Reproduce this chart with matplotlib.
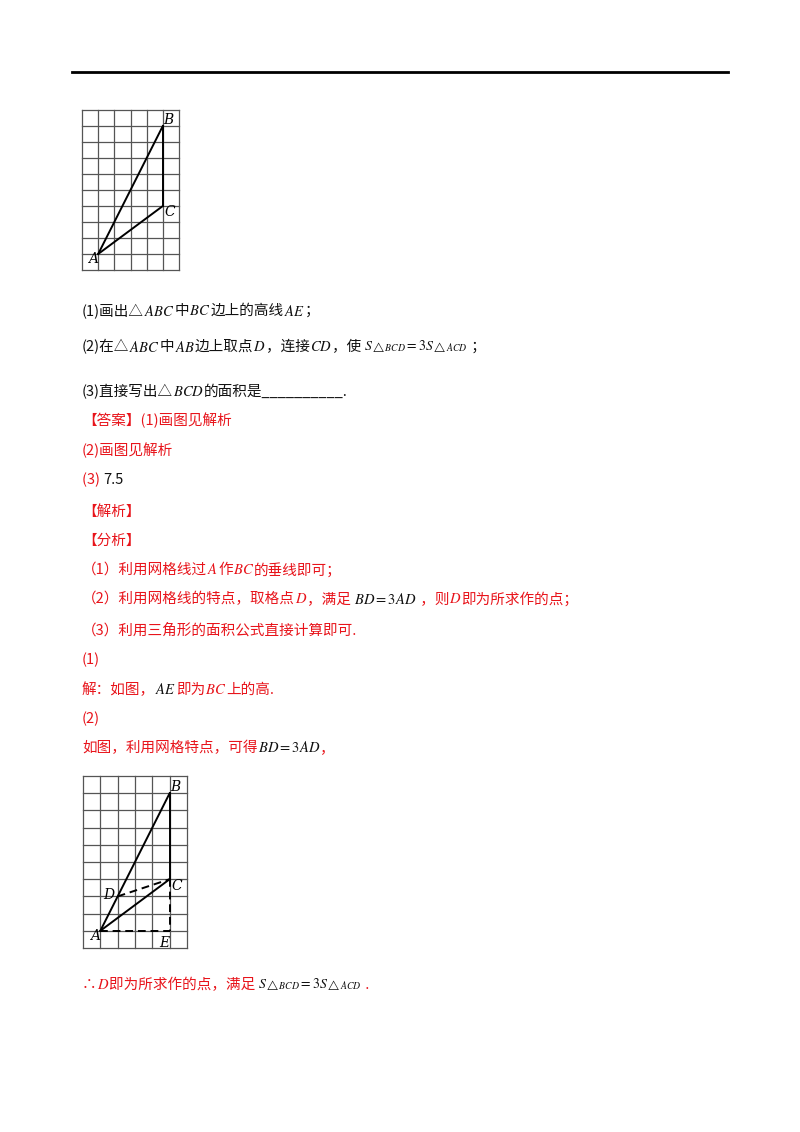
import matplotlib
matplotlib.use("Agg")
import matplotlib.pyplot as plt

plt.rcParams['font.family'] = ['Noto Sans CJK SC', 'DejaVu Sans']
plt.rcParams['mathtext.fontset'] = 'stix'

# grid points (column, row) on a 6 x 10 grid
grid_w, grid_h = 6, 10
A = (1, 1)
B = (5, 9)
C = (5, 4)
D = (2, 3)
E = (5, 1)

RED = '#e8141b'
BLK = '#111111'
S_EXPR = r'$S_{\triangle BCD}=3S_{\triangle ACD}$'

# text lines: (y pixel, [(text, color), ...])
lines = [
    (311, [('(1)画出△', BLK), ('$ABC$', BLK), ('中', BLK), ('$BC$', BLK), ('边上的高线', BLK), ('$AE$', BLK), ('；', BLK)]),
    (347, [('(2)在△', BLK), ('$ABC$', BLK), ('中', BLK), ('$AB$', BLK), ('边上取点', BLK), ('$D$', BLK), ('，连接', BLK),
           ('$CD$', BLK), ('，使 ', BLK), (S_EXPR, BLK), (' ；', BLK)]),
    (392, [('(3)直接写出△', BLK), ('$BCD$', BLK), ('的面积是__________.', BLK)]),
    (420, [('【答案】(1)画图见解析', RED)]),
    (450, [('(2)画图见解析', RED)]),
    (480, [('(3) ', RED), ('7.5', BLK)]),
    (512, [('【解析】', RED)]),
    (541, [('【分析】', RED)]),
    (570, [('（1）利用网格线过', RED), ('$A$', RED), ('作', RED), ('$BC$', RED), ('的垂线即可；', RED)]),
    (599, [('（2）利用网格线的特点，取格点', RED), ('$D$', RED), ('，满足 ', RED), ('$BD=3AD$', BLK),
           (' ，则', RED), ('$D$', RED), ('即为所求作的点；', RED)]),
    (630, [('（3）利用三角形的面积公式直接计算即可.', RED)]),
    (660, [('(1)', RED)]),
    (690, [('解：如图，', RED), ('$AE$', BLK), ('即为', RED), ('$BC$', RED), ('上的高.', RED)]),
    (719, [('(2)', RED)]),
    (748, [('如图，利用网格特点，可得', RED), ('$BD=3AD$', BLK), ('，', RED)]),
    (985, [('∴', RED), ('$D$', RED), ('即为所求作的点，满足 ', RED), (S_EXPR, BLK), (' .', RED)]),
]

fig = plt.figure(figsize=(8, 11.32), dpi=100)
page = fig.add_axes([0, 0, 1, 1])
page.set_xlim(0, 800)
page.set_ylim(1132, 0)
page.axis('off')
page.plot([72, 728], [72, 72], color='black', lw=2)

fig.canvas.draw()
renderer = fig.canvas.get_renderer()
for y, pieces in lines:
    x = 82
    for s, col in pieces:
        fs = 10 if '\\triangle' in s else 10.5
        t = page.text(x, y, s, color=col, fontsize=fs, va='center', ha='left')
        bb = t.get_window_extent(renderer)
        x += bb.width


def draw_grid(rect, extra):
    ax = fig.add_axes(rect)
    ax.set_xlim(0, grid_w)
    ax.set_ylim(0, grid_h)
    ax.axis('off')
    for i in range(grid_w + 1):
        ax.plot([i, i], [0, grid_h], color='#555555', lw=0.9, clip_on=False)
    for j in range(grid_h + 1):
        ax.plot([0, grid_w], [j, j], color='#555555', lw=0.9, clip_on=False)
    for p, q in [(A, B), (B, C), (C, A)]:
        ax.plot([p[0], q[0]], [p[1], q[1]], color='black', lw=1.4)
    lab = dict(fontsize=10, style='italic', family='DejaVu Serif')
    ax.text(A[0] - 0.6, A[1] - 0.55, 'A', **lab)
    ax.text(B[0] + 0.05, B[1] + 0.15, 'B', **lab)
    ax.text(C[0] + 0.1, C[1] - 0.6, 'C', **lab)
    if extra:
        for p, q in [(D, C), (C, E), (A, E)]:
            ax.plot([p[0], q[0]], [p[1], q[1]], color='black', lw=1.4, ls=(0, (4, 2.5)))
        ax.text(D[0] - 0.85, D[1] - 0.15, 'D', **lab)
        ax.text(E[0] - 0.6, E[1] - 0.95, 'E', **lab)
    return ax


# rects in figure fractions: left, bottom, width, height
draw_grid([82 / 800, 1 - 270 / 1132, 97 / 800, 160 / 1132], False)
draw_grid([83 / 800, 1 - 948 / 1132, 104 / 800, 172 / 1132], True)

fig.savefig('out.png', dpi=100)
